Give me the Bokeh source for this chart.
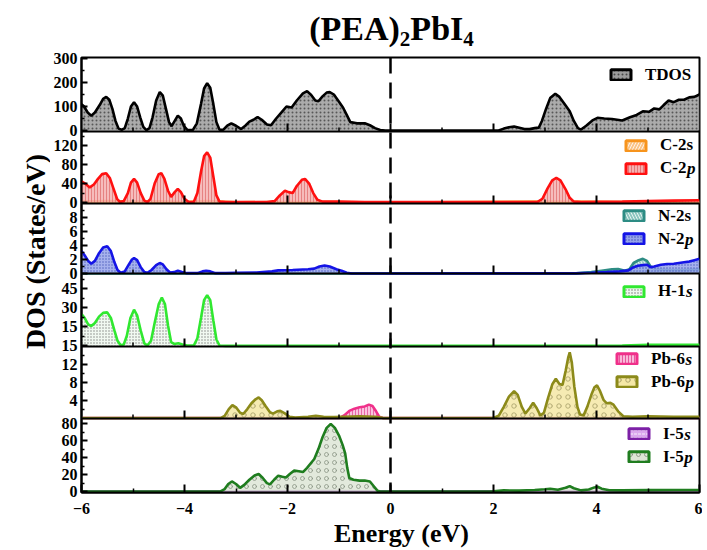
import math
from bokeh.plotting import figure
from bokeh.layouts import row, column
from bokeh.models import Range1d, FixedTicker, Span, Label, Legend, LegendItem, Plot
from bokeh.embed import file_html
from bokeh.resources import INLINE

# ---------------- data ----------------
tdos_e = [-6.0, -5.95, -5.88, -5.81, -5.74, -5.65, -5.58, -5.52, -5.46, -5.40, -5.34, -5.28, -5.22, -5.16,
          -5.10, -5.04, -4.98, -4.92, -4.86, -4.80, -4.74, -4.68, -4.62, -4.55, -4.48, -4.42, -4.36, -4.30,
          -4.25, -4.19, -4.13, -4.07, -4.01, -3.94, -3.84, -3.76, -3.68, -3.62, -3.56, -3.50, -3.44, -3.38,
          -3.32, -3.25, -3.17, -3.09, -3.00, -2.90, -2.82, -2.74, -2.66, -2.58, -2.50, -2.40, -2.32, -2.22,
          -2.10, -2.02, -1.92, -1.82, -1.70, -1.62, -1.54, -1.46, -1.40, -1.32, -1.24, -1.18, -1.10, -1.00,
          -0.92, -0.85, -0.78, -0.65, -0.50, -0.40, -0.30, -0.20, -0.10, 0.0, 1.0, 2.0, 2.10, 2.20, 2.30,
          2.40, 2.50, 2.60, 2.70, 2.80, 2.88, 2.94, 3.02, 3.10, 3.20, 3.28, 3.38, 3.48, 3.56, 3.64, 3.70,
          3.80, 3.92, 4.02, 4.15, 4.30, 4.50, 4.65, 4.78, 4.90, 5.02, 5.12, 5.22, 5.30, 5.40, 5.50, 5.60,
          5.70, 5.80, 5.90, 6.0]
tdos_v = [110, 100, 75, 62, 75, 105, 132, 140, 128, 90, 40, 8, 3, 10,
          50, 100, 118, 100, 55, 15, 2, 10, 55, 125, 160, 145, 90, 35,
          18, 40, 62, 50, 18, 2, 2, 30, 110, 175, 197, 178, 110, 35,
          3, 3, 20, 30, 20, 6, 20, 37, 45, 56, 45, 25, 22, 50,
          80, 100, 96, 125, 155, 164, 148, 125, 122, 142, 158, 160, 150, 120,
          95, 65, 35, 30, 30, 22, 10, 2, 0, 0, 0, 0, 0, 8, 14,
          17, 12, 6, 6, 10, 12, 40, 90, 135, 153, 140, 110, 80, 40, 10, 4,
          20, 42, 53, 50, 48, 42, 55, 65, 80, 78, 92, 88, 105, 125, 118, 128,
          128, 138, 140, 150]

c2s_e = [-6.0, -5.5, -5.0, -4.45, -4.0, -3.56, -3.0, -1.7, 0.0, 3.2, 4.5, 6.0]
c2s_v = [2, 3, 2, 2.5, 1, 3, 0.5, 1.5, 0, 2, 1, 1]

c2p_e = [-6.0, -5.93, -5.84, -5.76, -5.68, -5.60, -5.52, -5.45, -5.38, -5.31, -5.25, -5.18, -5.10, -5.04,
         -4.98, -4.92, -4.85, -4.78, -4.72, -4.66, -4.58, -4.50, -4.45, -4.39, -4.32, -4.26, -4.19, -4.13,
         -4.07, -4.00, -3.92, -3.82, -3.75, -3.68, -3.62, -3.56, -3.50, -3.44, -3.38, -3.32, -3.20, -2.40,
         -2.25, -2.15, -2.05, -1.98, -1.90, -1.82, -1.72, -1.66, -1.58, -1.50, -1.42, -1.32, -1.00, -0.50,
         0.0, 2.85, 2.95, 3.05, 3.14, 3.22, 3.30, 3.40, 3.48, 3.56, 3.70, 4.50, 5.00, 5.50, 6.00]
c2p_v = [45, 40, 32, 38, 50, 60, 62, 52, 30, 8, 1, 3, 20, 42,
         50, 42, 20, 4, 1, 8, 40, 60, 62, 50, 25, 12, 22, 29,
         22, 8, 1, 1, 20, 65, 98, 106, 95, 55, 15, 2, 1, 1,
         3, 15, 25, 22, 20, 35, 48, 50, 40, 20, 6, 2, 2, 1,
         1, 1, 8, 30, 47, 52, 47, 28, 10, 2, 1, 2, 3, 4, 5]

n2s_e = [-6.0, 3.6, 3.9, 4.1, 4.3, 4.42, 4.55, 4.64, 4.72, 4.82, 4.90, 4.98, 5.05, 5.15, 5.4, 5.7, 6.0]
n2s_v = [0, 0.02, 0.2, 0.4, 0.6, 0.65, 0.4, 0.6, 1.5, 1.9, 2.1, 1.8, 1.0, 0.6, 0.5, 0.5, 0.6]

n2p_e = [-6.0, -5.94, -5.87, -5.81, -5.74, -5.66, -5.58, -5.50, -5.43, -5.36, -5.30, -5.24, -5.16, -5.08,
         -5.02, -4.98, -4.92, -4.85, -4.78, -4.72, -4.64, -4.55, -4.48, -4.42, -4.35, -4.28, -4.20, -4.13,
         -4.05, -3.95, -3.75, -3.65, -3.58, -3.50, -3.40, -3.20, -3.00, -2.60, -2.30, -2.18, -1.90, -1.60,
         -1.48, -1.38, -1.28, -1.18, -1.05, -0.95, -0.85, -0.75, 0.0, 3.6, 3.9, 4.2, 4.45, 4.62, 4.72, 4.80,
         4.90, 4.98, 5.05, 5.12, 5.25, 5.37, 5.50, 5.60, 5.70, 5.80, 5.90, 6.0]
n2p_v = [3.2, 2.6, 1.8, 1.4, 1.8, 2.9, 3.7, 3.9, 3.2, 1.6, 0.5, 0.1, 0.3, 1.3,
         2.0, 2.2, 1.9, 0.9, 0.2, 0.1, 0.5, 1.2, 1.5, 1.3, 0.6, 0.15, 0.2, 0.4,
         0.2, 0.05, 0.05, 0.3, 0.4, 0.3, 0.05, 0.05, 0.1, 0.15, 0.3, 0.45, 0.5, 0.6,
         0.7, 1.0, 1.15, 1.0, 0.6, 0.4, 0.1, 0.0, 0.0, 0.02, 0.1, 0.2, 0.3, 0.45, 0.9, 1.1,
         1.2, 1.25, 0.9, 1.0, 1.25, 1.35, 1.4, 1.5, 1.6, 1.7, 1.9, 2.1]

h1s_e = [-6.0, -5.94, -5.87, -5.81, -5.74, -5.66, -5.58, -5.50, -5.43, -5.36, -5.30, -5.24, -5.18, -5.12,
         -5.05, -4.98, -4.92, -4.85, -4.78, -4.72, -4.65, -4.58, -4.50, -4.44, -4.38, -4.32, -4.26, -4.20,
         -4.12, -4.04, -3.95, -3.82, -3.75, -3.68, -3.62, -3.56, -3.50, -3.44, -3.38, -3.32, -3.20, 0.0,
         3.0, 4.5, 5.0, 6.0]
h1s_v = [25, 22, 17, 15.6, 18, 23, 26, 26.4, 22, 12, 4, 0.5, 1, 8,
         22, 28.5, 24, 12, 2, 0.3, 4, 18, 33, 38, 33, 16, 3, 1.5,
         2, 1, 0.2, 0.2, 6, 22, 36, 40, 36, 20, 5, 0.3, 0, 0,
         0.1, 0.3, 0.8, 0.8]

pb6s_e = [-6.0, -1.0, -0.9, -0.8, -0.7, -0.6, -0.5, -0.42, -0.35, -0.28, -0.22, -0.15, 6.0]
pb6s_v = [0, 0, 0.6, 1.6, 2.1, 2.4, 2.6, 3.0, 2.7, 1.5, 0.3, 0, 0]

pb6p_e = [-6.0, -3.30, -3.22, -3.14, -3.07, -3.00, -2.92, -2.86, -2.78, -2.70, -2.62, -2.56, -2.50, -2.42,
          -2.34, -2.28, -2.20, -2.14, -2.06, -1.96, -1.85, -1.60, -1.45, -1.30, -1.10, -0.90, -0.60, -0.30,
          -0.15, 0.0, 2.0, 2.10, 2.20, 2.30, 2.40, 2.47, 2.55, 2.62, 2.70, 2.77, 2.84, 2.91, 2.98, 3.06,
          3.14, 3.21, 3.28, 3.34, 3.40, 3.45, 3.48, 3.52, 3.57, 3.63, 3.68, 3.75, 3.82, 3.90, 3.96, 4.01,
          4.07, 4.14, 4.20, 4.27, 4.33, 4.42, 4.52, 4.70, 5.00, 5.50, 6.00]
pb6p_v = [0, 0, 0.5, 2.0, 2.9, 2.4, 1.2, 0.9, 2.0, 3.3, 4.2, 4.6, 4.0, 2.6,
          1.3, 1.0, 1.5, 1.6, 1.1, 0.3, 0.1, 0.3, 0.5, 0.3, 0.2, 0.3, 0.4, 0.3,
          0.05, 0, 0, 0.5, 2.5, 4.8, 6.0, 5.2, 2.5, 1.0, 2.2, 3.4, 2.2, 0.6, 1.2, 4.5,
          7.5, 8.8, 7.6, 7.4, 10.5, 13.5, 14.7, 12.5, 7.0, 2.5, 0.8, 0.6, 2.5, 5.2, 6.9, 7.3,
          6.0, 4.0, 3.3, 3.4, 3.0, 1.5, 0.4, 0.3, 0.4, 0.3, 0.3]

i5s_e = [-6.0, -3.0, -1.2, 0.0, 3.5, 6.0]
i5s_v = [0, 0.3, 0.8, 0, 0.5, 0.3]

i5p_e = [-6.0, -3.30, -3.22, -3.15, -3.08, -3.00, -2.92, -2.84, -2.74, -2.64, -2.56, -2.48, -2.40, -2.34,
         -2.26, -2.18, -2.10, -2.03, -1.95, -1.87, -1.78, -1.70, -1.62, -1.54, -1.48, -1.40, -1.32, -1.24,
         -1.16, -1.08, -1.00, -0.93, -0.88, -0.84, -0.80, -0.72, -0.60, -0.50, -0.40, -0.32, -0.25, -0.18,
         0.0, 2.0, 2.2, 2.5, 2.8, 3.0, 3.1, 3.25, 3.40, 3.48, 3.56, 3.70, 3.85, 3.96, 4.02, 4.10, 4.25,
         4.5, 5.0, 5.5, 6.0]
i5p_v = [0, 0.2, 3, 9, 12, 9, 4.5, 8, 14, 19, 20.8, 16, 10, 8.5,
         14, 18.8, 17.5, 16.7, 21, 24.7, 24, 23, 28, 34, 38.4, 50, 64, 75,
         79.6, 75, 66, 55, 45, 28, 16, 14, 13, 13, 12, 6, 1, 0,
         0, 0.3, 1.5, 1.2, 2.0, 2.8, 3.5, 2.2, 4.5, 6.5, 4.0, 1.5, 2.5, 5.0, 5.8, 3.5, 1.6,
         1.5, 1.8, 2.0, 2.0]

x_ticks = [-6, -4, -2, 0, 2, 4, 6]
x_minor = [-5, -3, -1, 1, 3, 5]

tdos_ticks, tdos_minor = [0, 100, 200, 300], [50, 150, 250]
c_ticks, c_minor = [0, 40, 80, 120], [20, 60, 100, 140]
n_ticks, n_minor = [0, 2, 4, 6, 8], [1, 3, 5, 7, 9]
h_ticks, h_minor = [0, 15, 30, 45], [7.5, 22.5, 37.5, 52.5]
h_tick_labels = ["15", "15", "30", "45"]
pb_ticks, pb_minor = [4, 8, 12], [2, 6, 10, 14]
i_ticks, i_minor = [0, 20, 40, 60, 80], [10, 30, 50, 70]

title_parts = [("(PEA)", False), ("2", True), ("PbI", False), ("4", True)]
x_label = "Energy (eV)"
y_label = "DOS (States/eV)"

# ---------------- layout (page pixels) ----------------
FONT = "Liberation Serif"
YLAB_W = 50
TOTAL_H = 549
TITLE_H = 50
FR_L, FR_R, FR_T, FR_B = 80, 699, 57, 492
MAIN_BOTTOM = 520
FH = FR_B - FR_T
COL_W = 702 - YLAB_W
MID = 0.33   # offset (em) of the text middle above the baseline


def fx(px):
    return px - FR_L


def fy(py):
    return FR_B - py


W = {"(": .333, ")": .333, "P": .611, "E": .667, "A": .722, "b": .556, "I": .389, "2": .5, "4": .5,
     "C": .722, "N": .722, "H": .778, "T": .667, "D": .722, "O": .778, "S": .556, "-": .333,
     "1": .5, "5": .5, "6": .5, "s": .389, "p": .556}


def tw(t, size):
    return sum(W.get(ch, .5) for ch in t) * size


def text_fig(w, h):
    f = Plot(width=w, height=h, x_range=Range1d(0, w), y_range=Range1d(0, h), output_backend="svg",
             toolbar_location=None, min_border=0, title=None, outline_line_color=None,
             background_fill_color="white", border_fill_color="white", frame_align=False)
    return f


def add_text(f, x, y, text, size, style="bold", align="left", baseline="middle", angle=0.0):
    f.add_layout(Label(x=x, y=y, x_units="screen", y_units="screen", text=text, text_font=FONT,
                       text_font_size=f"{size}px", text_font_style=style, text_align=align,
                       text_baseline=baseline, angle=angle, text_color="black"))


p = figure(width=COL_W, height=MAIN_BOTTOM - TITLE_H, x_range=Range1d(-6, 6), y_range=Range1d(0, FH),
           output_backend="svg", toolbar_location=None,
           min_border_left=FR_L - YLAB_W, min_border_right=YLAB_W + COL_W - FR_R,
           min_border_top=FR_T - TITLE_H, min_border_bottom=MAIN_BOTTOM - FR_B)
p.frame_align = False
p.grid.visible = False
p.outline_line_color = "black"
p.outline_line_width = 2
p.background_fill_color = "white"
p.border_fill_color = "white"

panels = [
    dict(name="tdos", top=57, bot=131, d0=-4, d1=304, ticks=tdos_ticks, minor=tdos_minor, labels=None),
    dict(name="c", top=131, bot=203, d0=-2, d1=150, ticks=c_ticks, minor=c_minor, labels=None),
    dict(name="n", top=203, bot=273, d0=0, d1=10, ticks=n_ticks, minor=n_minor, labels=None),
    dict(name="h", top=273, bot=346, d0=-0.5, d1=57, ticks=h_ticks, minor=h_minor, labels=h_tick_labels),
    dict(name="pb", top=346, bot=418, d0=-0.1, d1=16, ticks=pb_ticks, minor=pb_minor, labels=None),
    dict(name="i", top=418, bot=492, d0=-1, d1=86, ticks=i_ticks, minor=i_minor, labels=None),
]

major_pos, minor_pos, overrides = [], [], {}
for pn in panels:
    s0, s1 = fy(pn["bot"]), fy(pn["top"])
    k = (pn["d1"] - pn["d0"]) / (s1 - s0)
    pn["s0"], pn["s1"], pn["k"] = s0, s1, k
    p.extra_y_ranges[pn["name"]] = Range1d(pn["d0"] - s0 * k, pn["d1"] + (FH - s1) * k)
    labs = pn["labels"] or [str(t) for t in pn["ticks"]]
    for t, lab in zip(pn["ticks"], labs):
        pos = round(s0 + (t - pn["d0"]) / k, 3)
        major_pos.append(pos)
        overrides[pos] = lab
    for t in pn["minor"]:
        minor_pos.append(round(s0 + (t - pn["d0"]) / k, 3))

yax = p.yaxis[0]
yax.ticker = FixedTicker(ticks=major_pos, minor_ticks=minor_pos)
yax.major_label_overrides = overrides
xax = p.xaxis[0]
xax.ticker = FixedTicker(ticks=x_ticks, minor_ticks=x_minor)
for ax in (xax, yax):
    ax.axis_line_width = 2
    ax.axis_line_color = "black"
    ax.major_tick_line_width = 2
    ax.minor_tick_line_width = 1.5
    ax.major_tick_out = 0
    ax.minor_tick_out = 0
    ax.major_label_text_font = FONT
    ax.major_label_text_font_style = "bold"
    ax.major_label_text_font_size = "16px"
    ax.major_label_text_color = "black"
yax.major_tick_in = 6
yax.minor_tick_in = 3
yax.major_label_standoff = 4
xax.major_tick_in = 8
xax.minor_tick_in = 4
xax.major_label_standoff = 10

series = {
    "tdos": [dict(e=tdos_e, v=tdos_v, label=("TDOS", ""), line="#000000", fill="#9c9c9c", hatch="dot",
                  hcolor="#333333", hscale=4)],
    "c": [dict(e=c2s_e, v=c2s_v, label=("C-2s", ""), line="#f7941d", fill="#fbc487", hatch="right_diagonal_line",
               hcolor="#ffffff", hscale=6),
          dict(e=c2p_e, v=c2p_v, label=("C-2", "p"), line="#ff1010", fill="#f5b0b0", hatch="vertical_line",
               hcolor="#e06a6a", hscale=3)],
    "n": [dict(e=n2s_e, v=n2s_v, label=("N-2s", ""), line="#2d8c84", fill="#8cc6bf", hatch="left_diagonal_line",
               hcolor="#ffffff", hscale=6),
          dict(e=n2p_e, v=n2p_v, label=("N-2", "p"), line="#1414e6", fill="#96a4ea", hatch="dot",
               hcolor="#2b3aa8", hscale=3)],
    "h": [dict(e=h1s_e, v=h1s_v, label=("H-1", "s"), line="#30e830", fill="#eef8ee", hatch="dot",
               hcolor="#555555", hscale=3)],
    "pb": [dict(e=pb6s_e, v=pb6s_v, label=("Pb-6", "s"), line="#f0308a", fill="#f9b9d9", hatch="vertical_line",
                hcolor="#e0408f", hscale=3),
           dict(e=pb6p_e, v=pb6p_v, label=("Pb-6", "p"), line="#8c8a1a", fill="#f5e8a6", hatch="ring",
                hcolor="#9d9660", hscale=9)],
    "i": [dict(e=i5s_e, v=i5s_v, label=("I-5", "s"), line="#7c20a6", fill="#dba8ee", hatch="horizontal_dash",
               hcolor="#ffffff", hscale=4),
          dict(e=i5p_e, v=i5p_v, label=("I-5", "p"), line="#1f7d1f", fill="#dde5d6", hatch="ring",
               hcolor="#7f8a7a", hscale=8)],
}

legend_pos = {"tdos": (527, 406.5), "c": (542, 313), "n": (540, 242.5), "h": (540, 190),
              "pb": (533, 99.5), "i": (545, 24.5)}
GW, GH, LS, LH, SP, LFS = 25, 13, 12, 22, 1, 17

for pn in panels:
    nm = pn["name"]
    items = []
    for s in series[nm]:
        p.varea(x=s["e"], y1=0, y2=s["v"], y_range_name=nm, fill_color=s["fill"], fill_alpha=0.85,
                hatch_pattern=s["hatch"], hatch_color=s["hcolor"], hatch_scale=s["hscale"], hatch_alpha=0.7)
        p.line(x=s["e"], y=s["v"], y_range_name=nm, line_color=s["line"], line_width=2.6)
        # hidden outline patch: only used to draw the framed legend swatch
        swatch = p.patch(x=s["e"] + [s["e"][-1], s["e"][0]], y=s["v"] + [0, 0], y_range_name=nm,
                         fill_color=s["fill"], line_color=s["line"], line_width=3,
                         hatch_pattern=s["hatch"], hatch_color=s["hcolor"], hatch_scale=s["hscale"],
                         hatch_alpha=0.8, visible=False)
        items.append(LegendItem(label=s["label"][0], renderers=[swatch]))
    x0, y0 = legend_pos[nm]
    leg = Legend(items=items, location=(x0, y0), orientation="vertical", glyph_width=GW, glyph_height=GH,
                 label_standoff=LS, label_height=LH, spacing=SP, padding=0, margin=0,
                 border_line_alpha=0, background_fill_alpha=0, inactive_fill_alpha=0,
                 label_text_font=FONT, label_text_font_style="bold", label_text_font_size=f"{LFS}px",
                 label_text_color="black")
    p.add_layout(leg)
    n = len(items)
    for i, s in enumerate(series[nm]):
        main, suf = s["label"]
        if suf:
            cy = y0 + (n - i - 0.5) * LH + (n - 1 - i) * SP
            add_text(p, x0 + GW + LS + tw(main, LFS), cy, suf, LFS, style="bold italic")

# inner x ticks at the bottom of each upper panel, and panel separators
for pn in panels[:-1]:
    s0 = pn["s0"]
    p.segment(x0=x_ticks[1:-1], y0=[s0] * (len(x_ticks) - 2), x1=x_ticks[1:-1],
              y1=[s0 + 8] * (len(x_ticks) - 2), line_color="black", line_width=2)
    p.segment(x0=x_minor, y0=[s0] * len(x_minor), x1=x_minor, y1=[s0 + 4] * len(x_minor),
              line_color="black", line_width=1.5)
    p.add_layout(Span(location=s0, dimension="width", line_color="black", line_width=2))

p.add_layout(Span(location=0, dimension="height", line_color="black", line_width=2.5, line_dash="16 9"))

# title figure (page baseline ~39.5, subscripts 6 px lower)
title_fig = text_fig(COL_W, TITLE_H)
TS, SS = 34, 21
sizes = [SS if sub else TS for _, sub in title_parts]
total = sum(tw(t, s) for (t, _), s in zip(title_parts, sizes))
cx = (391 - YLAB_W) - total / 2
for (t, sub), s in zip(title_parts, sizes):
    base = 39.5 + (6.0 if sub else 0)
    add_text(title_fig, cx, TITLE_H - (base - MID * s), t, s)
    cx += tw(t, s)

# y label figure
ylab_fig = text_fig(YLAB_W, TOTAL_H)
add_text(ylab_fig, 35, TOTAL_H - 251, y_label, 28, align="center", angle=math.pi / 2)

# x label figure (page baseline 542)
xlab_fig = text_fig(COL_W, TOTAL_H - MAIN_BOTTOM)
add_text(xlab_fig, 401 - YLAB_W, TOTAL_H - (542 - MID * 26), x_label, 26, align="center")

layout = row(ylab_fig, column(title_fig, p, xlab_fig, spacing=0), spacing=0)
open("out.html", "w").write(file_html(layout, INLINE))
